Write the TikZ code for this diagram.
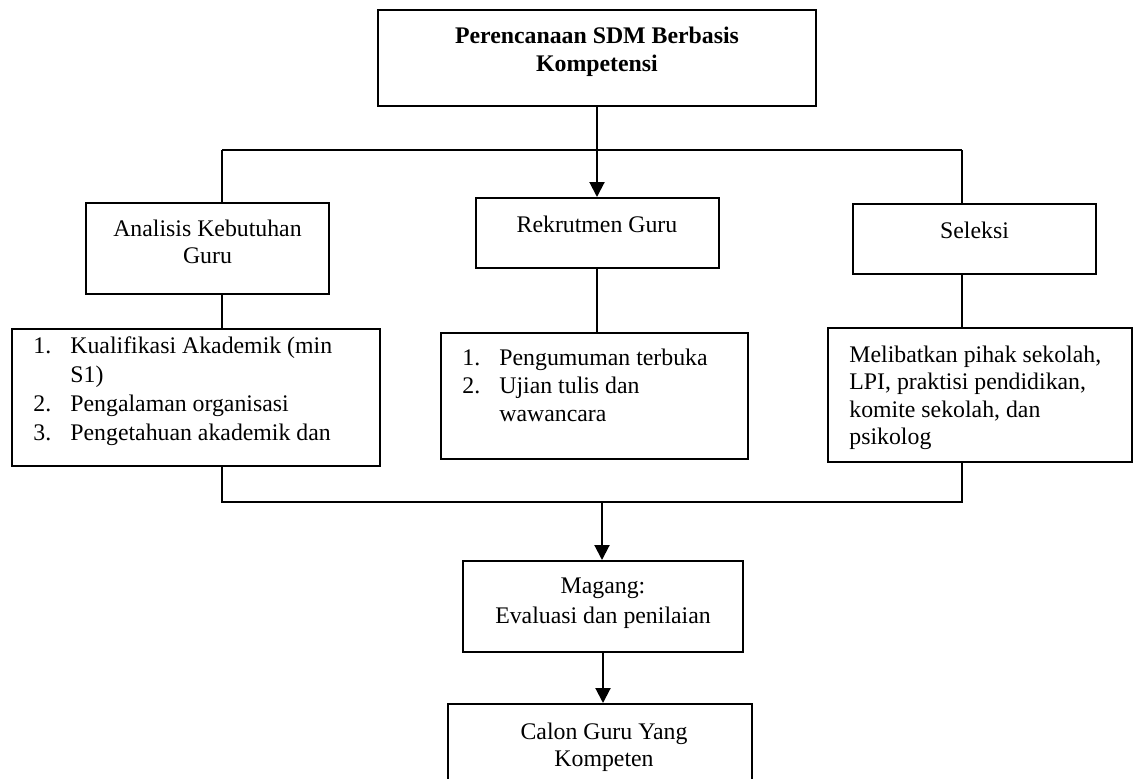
\documentclass[tikz,border=0pt]{standalone}
\usepackage{fontspec}
\setmainfont{Liberation Serif}
\usetikzlibrary{arrows.meta}

\begin{document}
\begin{tikzpicture}
[
x=0.5pt, y=-0.5pt,
sdmbox/.style={draw=black, line width=1pt, inner sep=0pt},
sdmtext/.style={inner sep=0pt, anchor=base, font=\fontsize{11.9}{14}\selectfont},
sdmlist/.style={sdmtext, anchor=base west},
conn/.style={draw=black, line width=1pt},
arr/.style={conn, -{Triangle[width=7.5pt, length=7.5pt]}}
]
\clip (0,0) rectangle (1135,778);

%Boxes
\node[sdmbox, minimum width=219pt, minimum height=48pt]		(top) at(597,58) {};
\node[sdmbox, minimum width=121.5pt, minimum height=45.5pt]	(analisis) at(207.5,248.5) {};
\node[sdmbox, minimum width=121.5pt, minimum height=35pt]	(rekrutmen) at(597,233) {};
\node[sdmbox, minimum width=121.5pt, minimum height=35pt]	(seleksi) at(974.5,239) {};
\node[sdmbox, minimum width=184pt, minimum height=68.5pt]	(kualifikasi) at(196,397.5) {};
\node[sdmbox, minimum width=153.5pt, minimum height=63pt]	(pengumuman) at(594.5,396) {};
\node[sdmbox, minimum width=152pt, minimum height=67pt]		(melibatkan) at(980,395) {};
\node[sdmbox, minimum width=140pt, minimum height=45.5pt]	(magang) at(603,606.5) {};
\node[sdmbox, minimum width=152pt, minimum height=53pt]		(calon) at(600,757) {};

%Texts
\node[sdmtext]	(top1) at(597,43) {\textbf{Perencanaan SDM Berbasis}};
\node[sdmtext]	(top2) at(597,71) {\textbf{Kompetensi}};
\node[sdmtext]	(analisis1) at(207.5,236) {Analisis Kebutuhan};
\node[sdmtext]	(analisis2) at(207.5,263) {Guru};
\node[sdmtext]	(rekrutmen1) at(597,232) {Rekrutmen Guru};
\node[sdmtext]	(seleksi1) at(974.5,238) {Seleksi};

\node[sdmlist]	(k1n) at(33,353) {1.};
\node[sdmlist]	(k1) at(70,353) {Kualifikasi Akademik (min};
\node[sdmlist]	(k1b) at(70,382) {S1)};
\node[sdmlist]	(k2n) at(33,411) {2.};
\node[sdmlist]	(k2) at(70,411) {Pengalaman organisasi};
\node[sdmlist]	(k3n) at(33,440) {3.};
\node[sdmlist]	(k3) at(70,440) {Pengetahuan akademik dan};

\node[sdmlist]	(p1n) at(462,365) {1.};
\node[sdmlist]	(p1) at(499,365) {Pengumuman terbuka};
\node[sdmlist]	(p2n) at(462,393) {2.};
\node[sdmlist]	(p2) at(499,393) {Ujian tulis dan};
\node[sdmlist]	(p2b) at(499,421) {wawancara};

\node[sdmlist]	(m1) at(849,362) {Melibatkan pihak sekolah,};
\node[sdmlist]	(m2) at(849,389) {LPI, praktisi pendidikan,};
\node[sdmlist]	(m3) at(849,417) {komite sekolah, dan};
\node[sdmlist]	(m4) at(849,444) {psikolog};

\node[sdmtext]	(magang1) at(603,593) {Magang:};
\node[sdmtext]	(magang2) at(603,623) {Evaluasi dan penilaian};
\node[sdmtext]	(calon1) at(604,739) {Calon Guru Yang};
\node[sdmtext]	(calon2) at(604,766) {Kompeten};

%Connectors
\coordinate (busTL) at(222,150);
\coordinate (busTR) at(962,150);
\coordinate (busBL) at(222,502);
\coordinate (busBR) at(962,502);
\coordinate (busBM) at(602,502);

\draw[arr] (top.south) -- (rekrutmen.north);
\draw[conn] (busTL) -- (busTR);
\draw[conn] (busTL) -- (busTL |- analisis.north);
\draw[conn] (busTR) -- (busTR |- seleksi.north);
\draw[conn] (analisis.south -| busTL) -- (kualifikasi.north -| busTL);
\draw[conn] (rekrutmen.south) -- (rekrutmen.south |- pengumuman.north);
\draw[conn] (seleksi.south -| busTR) -- (melibatkan.north -| busTR);
\draw[conn] (kualifikasi.south -| busBL) -- (busBL) -- (busBR) -- (melibatkan.south -| busBR);
\draw[arr] (busBM) -- (busBM |- magang.north);
\draw[arr] (magang.south) -- (magang.south |- calon.north);

\end{tikzpicture}
\end{document}
